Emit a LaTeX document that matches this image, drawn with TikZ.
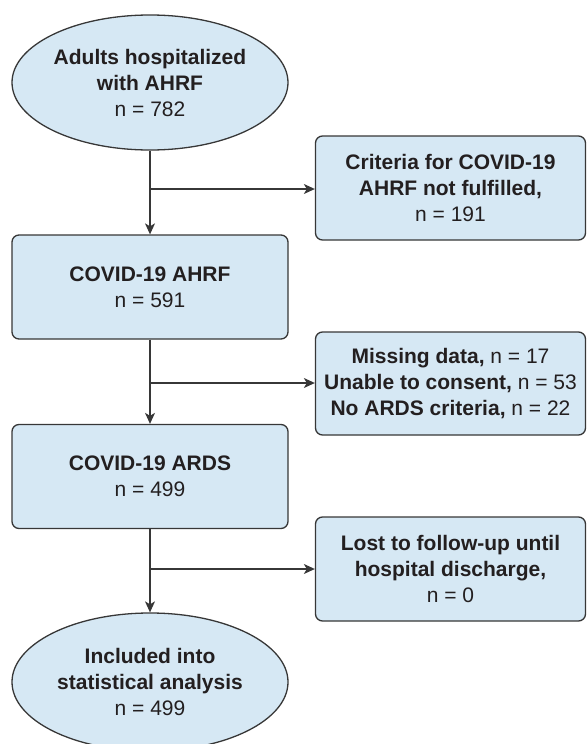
\documentclass[tikz,border=0pt]{standalone}
\usepackage{fontspec}
\setmainfont{Liberation Sans}
\usetikzlibrary{shapes.geometric,arrows.meta}
\definecolor{boxfill}{RGB}{214,232,244}
\definecolor{boxline}{RGB}{55,55,55}
\definecolor{txt}{RGB}{35,31,32}
\tikzset{
  base/.style={draw=boxline, fill=boxfill, line width=1.3pt, text=txt, align=center, inner sep=0pt,
    font=\fontsize{21}{26}\selectfont},
  oval/.style={base, ellipse, minimum width=276pt, minimum height=135pt},
  lbox/.style={base, rectangle, rounded corners=7pt, minimum width=276pt, minimum height=104pt},
  rbox/.style={base, rectangle, rounded corners=7pt, minimum width=270pt, minimum height=104pt},
  conn/.style={draw=boxline, line width=1.2pt},
  arr/.style={conn, -{Stealth[length=11pt,width=10pt,inset=3pt]}}
}
\begin{document}
\begin{tikzpicture}[x=1pt,y=-1pt]
\useasboundingbox (0,0) rectangle (587,744);
\clip (0,0) rectangle (587,744);
\node[oval] (start) at (150,82.5) {\textbf{Adults hospitalized}\\\textbf{with AHRF}\\n = 782};
\node[lbox] (ahrf) at (150,287) {\textbf{COVID-19 AHRF}\\n = 591};
\node[lbox] (ards) at (150,476.5) {\textbf{COVID-19 ARDS}\\n = 499};
\node[oval, minimum height=138pt] (incl) at (150,682) {\textbf{Included into}\\\textbf{statistical analysis}\\n = 499};
\node[rbox] (crit) at (450.5,188) {\textbf{Criteria for COVID-19}\\\textbf{AHRF not fulfilled,}\\n = 191};
\node[rbox, minimum height=103pt] (miss) at (450.5,383.5) {\textbf{Missing data,} n = 17\\\textbf{Unable to consent,} n = 53\\\textbf{No ARDS criteria,} n = 22};
\node[rbox] (lost) at (450.5,569) {\textbf{Lost to follow-up until}\\\textbf{hospital discharge,}\\n = 0};
\coordinate (b1) at (150,189);
\coordinate (b2) at (150,383);
\coordinate (b3) at (150,569);
\draw[arr] (start.south) -- (ahrf.north);
\draw[arr] (ahrf.south) -- (ards.north);
\draw[arr] (ards.south) -- (incl.north);
\draw[arr] (b1) -- (b1 -| crit.west);
\draw[arr] (b2) -- (b2 -| miss.west);
\draw[arr] (b3) -- (b3 -| lost.west);
\end{tikzpicture}
\end{document}
